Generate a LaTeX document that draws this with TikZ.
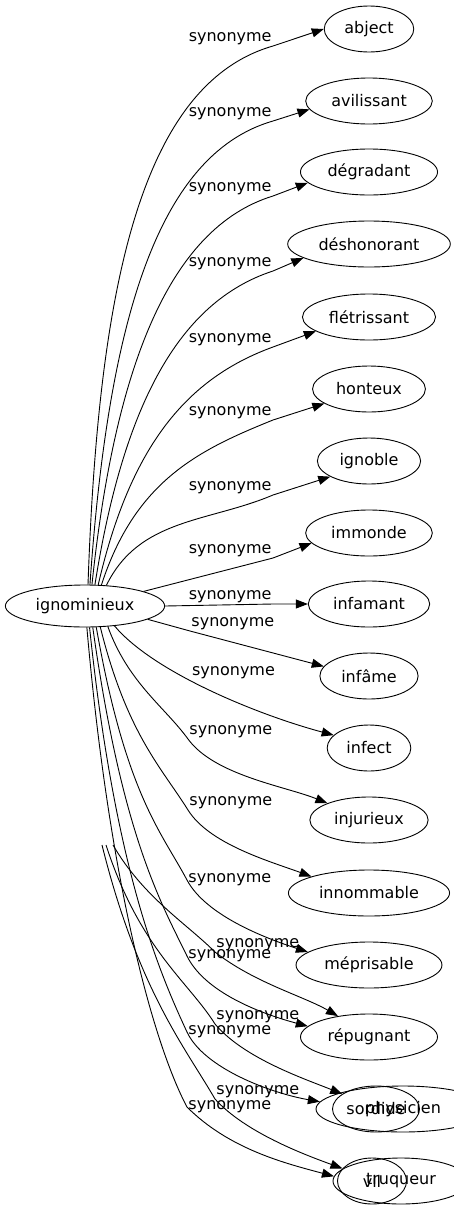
\documentclass[tikz,border=0pt]{standalone}
\usepackage{fontspec}
\setmainfont{DejaVu Sans}
\usetikzlibrary{shapes.geometric,arrows.meta}

\tikzset{
  word/.style={ellipse, draw, line width=0.9pt, inner xsep=7pt, inner ysep=2pt,
    minimum width=69pt, minimum height=46pt, font=\fontsize{16}{19}\selectfont},
  lab/.style={inner sep=1pt, font=\fontsize{16}{19}\selectfont},
  rel/.style={-{Triangle[length=12pt,width=9pt]}, line width=0.9pt},
}

\begin{document}
\begin{tikzpicture}[x=1pt,y=1pt]
    \useasboundingbox (0,0) rectangle (453,-1211);

    \node[word, minimum height=42pt] (ig) at (85,-606) {ignominieux};

    \node[word] (abject) at (369,-29) {abject};
    \node[word] (avilissant) at (369,-101) {avilissant};
    \node[word] (degradant) at (369,-172) {dégradant};
    \node[word] (deshonorant) at (369,-244) {déshonorant};
    \node[word] (fletrissant) at (369,-317) {flétrissant};
    \node[word] (honteux) at (369,-389) {honteux};
    \node[word] (ignoble) at (369,-461) {ignoble};
    \node[word] (immonde) at (369,-533) {immonde};
    \node[word] (infamant) at (369,-604) {infamant};
    \node[word] (infame) at (369,-676) {infâme};
    \node[word] (infect) at (369,-748) {infect};
    \node[word] (injurieux) at (369,-820) {injurieux};
    \node[word] (innommable) at (369,-893) {innommable};
    \node[word] (meprisable) at (369,-965) {méprisable};
    \node[word] (repugnant) at (369,-1037) {répugnant};
    \node[word, inner xsep=1pt, minimum width=87pt] (sordide) at (376,-1109) {sordide};
    \node[word, minimum width=174pt] (physicien) at (403,-1109) {physicien};
    \node[word] (vil) at (372,-1181) {vil};
    \node[word, minimum width=136pt] (truqueur) at (401,-1181) {truqueur};

    \coordinate (g1) at (102,-845);
    \coordinate (g2) at (106,-845);
    \coordinate (g3) at (113,-845);

    \draw[rel] (ig.82) .. controls +(88:290) and +(196:140) .. (273,-46) node[lab, anchor=south east] {synonyme} -- (abject.180);
    \draw[rel] (ig.77) .. controls +(86:250) and +(196:125) .. (273,-121) node[lab, anchor=south east] {synonyme} -- (avilissant.188);
    \draw[rel] (ig.72) .. controls +(84:215) and +(197:110) .. (273,-196) node[lab, anchor=south east] {synonyme} -- (degradant.190);
    \draw[rel] (ig.65) .. controls +(81:180) and +(198:100) .. (273,-271) node[lab, anchor=south east] {synonyme} -- (deshonorant.192);
    \draw[rel] (ig.58) .. controls +(77:145) and +(200:90) .. (273,-347) node[lab, anchor=south east] {synonyme} -- (fletrissant.195);
    \draw[rel] (ig.52) .. controls +(72:110) and +(202:80) .. (273,-420) node[lab, anchor=south east] {synonyme} -- (honteux.198);
    \draw[rel] (ig.44) .. controls +(64:75) and +(203:70) .. (273,-495) node[lab, anchor=south east] {synonyme} -- (ignoble.202);
    \draw[rel] (ig.14) -- (273,-558) node[lab, anchor=south east] {synonyme} -- (immonde.190);
    \draw[rel] (ig.east) -- (273,-604) node[lab, anchor=south east] {synonyme} -- (infamant.west);
    \draw[rel] (ig.-12) -- (190,-631) node[lab, anchor=south west] {synonyme} -- (infame.168);
    \draw[rel] (ig.-34) .. controls +(-50:60) and +(165:80) .. node[lab, pos=0.42, anchor=south west] {synonyme} (infect.160);
    \draw[rel] (ig.-42) .. controls +(-70:60) and +(126:40) .. (188,-739) node[lab, anchor=south west] {synonyme} .. controls +(-54:45) and +(158:45) .. (injurieux.158);
    \draw[rel] (ig.-54) .. controls +(-76:110) and +(122:50) .. (188,-810) node[lab, anchor=south west] {synonyme} .. controls +(-58:40) and +(160:45) .. (innommable.164);
    \draw[rel] (ig.-62) .. controls +(-80:170) and +(118:55) .. (187,-880) node[lab, anchor=west] {synonyme} .. controls +(-62:40) and +(162:45) .. (meprisable.168);
    \draw[rel] (ig.-70) .. controls +(-82:210) and +(116:60) .. (187,-956) node[lab, anchor=west] {synonyme} .. controls +(-64:40) and +(165:50) .. (repugnant.170);
    \draw[rel] (ig.-78) .. controls +(-84:240) and +(115:70) .. (187,-1032) node[lab, anchor=west] {synonyme} .. controls +(-65:40) and +(170:50) .. (physicien.175);
    \draw[rel] (ig.-85) .. controls +(-85:260) and +(118:70) .. (187,-1107) node[lab, anchor=west] {synonyme} .. controls +(-45:60) and +(165:50) .. (truqueur.176);

    \draw[rel] (g3) .. controls +(-60:60) and +(135:40) .. (215,-952) node[lab, anchor=south west] {synonyme} .. controls +(-38:50) and +(150:40) .. (repugnant.146);
    \draw[rel] (g2) .. controls +(-72:110) and +(122:50) .. (215,-1024) node[lab, anchor=south west] {synonyme} .. controls +(-50:45) and +(158:40) .. (sordide.156);
    \draw[rel] (g1) .. controls +(-76:150) and +(120:60) .. (215,-1099) node[lab, anchor=south west] {synonyme} .. controls +(-48:45) and +(160:40) .. (vil.157);
\end{tikzpicture}
\end{document}
